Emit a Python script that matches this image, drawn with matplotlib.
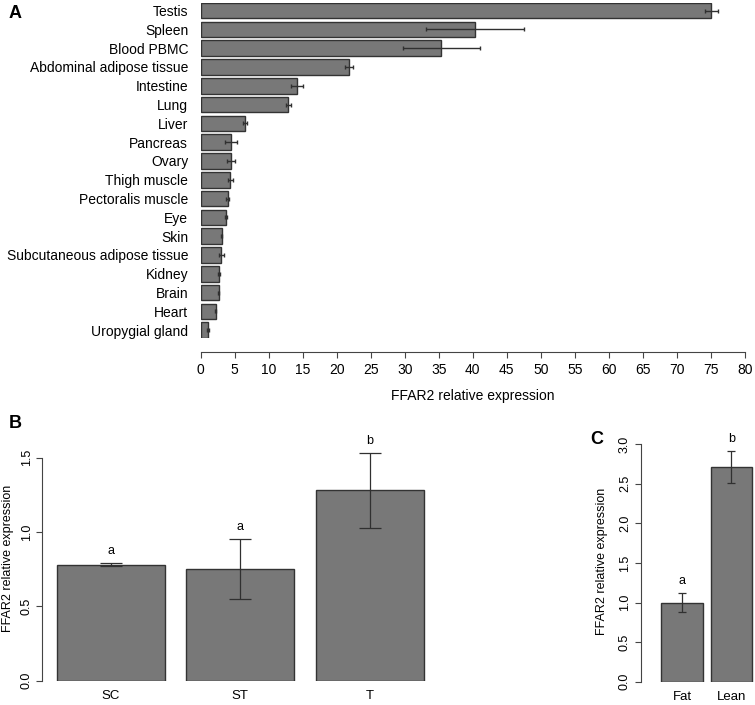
import matplotlib
matplotlib.use("Agg")
import matplotlib.pyplot as plt

plt.rcParams['font.family'] = ['Liberation Sans', 'DejaVu Sans']

# panel A: tissue distribution
tissues = ["Testis", "Spleen", "Blood PBMC", "Abdominal adipose tissue", "Intestine",
           "Lung", "Liver", "Pancreas", "Ovary", "Thigh muscle", "Pectoralis muscle",
           "Eye", "Skin", "Subcutaneous adipose tissue", "Kidney", "Brain", "Heart",
           "Uropygial gland"]
tissue_expr = [75.1, 40.4, 35.4, 21.8, 14.2, 12.9, 6.5, 4.45, 4.45, 4.35, 3.95,
               3.7, 3.1, 3.0, 2.75, 2.65, 2.2, 1.05]
tissue_se = [0.9, 7.2, 5.7, 0.65, 0.9, 0.4, 0.35, 0.9, 0.6, 0.35, 0.25,
             0.15, 0.1, 0.37, 0.15, 0.05, 0.1, 0.1]
a_ticks = list(range(0, 81, 5))

# panel B
groups_b = ["SC", "ST", "T"]
expr_b = [0.78, 0.75, 1.28]
se_b = [0.012, 0.2, 0.25]
sig_b = ["a", "a", "b"]

# panel C
groups_c = ["Fat", "Lean"]
expr_c = [1.0, 2.71]
se_c = [0.115, 0.205]
sig_c = ["a", "b"]

W, H = 755, 705
bar_col = "#787878"
edge_col = "#333333"
err_col = "#303030"


def px_axes(fig, left, right, top, bottom):
    return fig.add_axes([left / W, 1 - bottom / H, (right - left) / W, (bottom - top) / H])


fig = plt.figure(figsize=(W / 100, H / 100), dpi=100)

# ---- A ----
ax = px_axes(fig, 200.7, 744.7, 2.7, 338)
ypos = list(range(len(tissues)))
ax.barh(ypos, tissue_expr, height=0.833, color=bar_col, edgecolor=edge_col, linewidth=1.0)
ax.errorbar(tissue_expr, ypos, xerr=tissue_se, fmt="none", ecolor=err_col,
            elinewidth=1.0, capsize=1.3, capthick=1.0, clip_on=False)
ax.set_ylim(len(tissues) - 1 + 0.4167, -0.4167)
ax.set_xlim(0, 80)
ax.set_yticks(ypos)
ax.set_yticklabels(tissues, fontsize=10)
ax.tick_params(axis="y", length=0, pad=9)
ax.set_xticks(a_ticks)
ax.tick_params(axis="x", labelsize=10, length=4, width=0.8, color="#444444", pad=4)
for s in ["top", "right", "left"]:
    ax.spines[s].set_visible(False)
ax.spines["bottom"].set_position(("outward", 10.3))
ax.spines["bottom"].set_color("#444444")
ax.spines["bottom"].set_linewidth(0.8)
ax.set_xlabel("FFAR2 relative expression", fontsize=10, labelpad=8)
fig.text(15 / W, 1 - 14 / H, "A", fontsize=13, fontweight="bold", ha="center", va="center")


def group_panel(ax, groups, vals, errs, letters, xpos, cap, ticks, top_lim, ylabpad):
    ax.bar(xpos, vals, width=1.0, color=bar_col, edgecolor=edge_col, linewidth=1.0)
    ax.errorbar(xpos, vals, yerr=errs, fmt="none", ecolor=err_col, elinewidth=0.9,
                capsize=cap, capthick=0.9)
    for x, v, e, t in zip(xpos, vals, errs, letters):
        ax.text(x, v + e + top_lim * 0.025, t, ha="center", va="bottom", fontsize=9)
    ax.set_ylim(0, top_lim)
    ax.set_yticks(ticks)
    ax.set_yticklabels([f"{t:.1f}" for t in ticks], rotation=90, va="center", fontsize=9)
    ax.spines["left"].set_bounds(ticks[0], ticks[-1])
    ax.spines["left"].set_color("#444444")
    ax.spines["left"].set_linewidth(0.8)
    for s in ["top", "right", "bottom"]:
        ax.spines[s].set_visible(False)
    ax.set_xticks(xpos)
    ax.set_xticklabels(groups, fontsize=9.5)
    ax.tick_params(axis="x", length=0, pad=7)
    ax.tick_params(axis="y", length=4, width=0.8, color="#444444", pad=3)
    ax.set_ylabel("FFAR2 relative expression", fontsize=9, labelpad=ylabpad)


# ---- B ----
axb = px_axes(fig, 42.3, 438.4, 680.7 - 1.65 * 148.7, 680.7)
axb.set_xlim(0.064, 3.736)
group_panel(axb, groups_b, expr_b, se_b, sig_b, [0.7, 1.9, 3.1], 8,
            [0.0, 0.5, 1.0, 1.5], 1.65, 5)
fig.text(15 / W, 1 - 424 / H, "B", fontsize=13, fontweight="bold", ha="center", va="center")

# ---- C ----
axc = px_axes(fig, 640.7, 755, 681.7 - 3.05 * 79.2, 681.7)
axc.set_xlim(-0.3, 2.47)
group_panel(axc, groups_c, expr_c, se_c, sig_c, [0.7, 1.9], 3.2,
            [0.0, 0.5, 1.0, 1.5, 2.0, 2.5, 3.0], 3.05, 8)
fig.text(597 / W, 1 - 439 / H, "C", fontsize=13, fontweight="bold", ha="center", va="center")

fig.savefig("out.png", dpi=100)
